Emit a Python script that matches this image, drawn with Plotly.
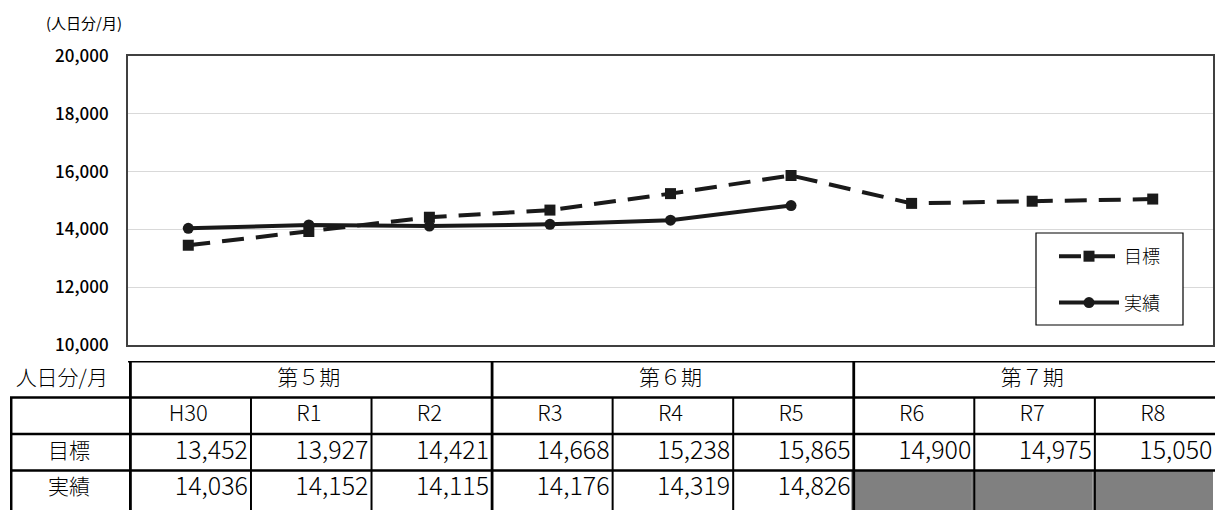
import plotly.graph_objects as go

# ---- data ----
years = ["H30", "R1", "R2", "R3", "R4", "R5", "R6", "R7", "R8"]
periods = ["第５期", "第６期", "第７期"]
target = [13452, 13927, 14421, 14668, 15238, 15865, 14900, 14975, 15050]
actual = [14036, 14152, 14115, 14176, 14319, 14826, None, None, None]
row_labels = ["目標", "実績"]
unit_label = "人日分/月"
axis_unit = "(人日分/月)"
y_ticks = [10000, 12000, 14000, 16000, 18000, 20000]

FONT = "Noto Sans CJK JP"
W, H = 1215, 510
ML, MR, MT, MB = 10, 0, 56, 0
PW, PH = W - ML - MR, H - MT - MB

def px_x(s):  # screen pixel -> paper x
    return (s - ML) / PW

def px_y(s):  # screen pixel -> paper y
    return (H - MB - s) / PH

xi = list(range(len(years)))
unit_px = (1213 - 128) / len(years)
tbl_left = -0.5 - (128 - 10) / unit_px
x2_right = 8.5 + (1215 - 1213) / unit_px

fig = go.Figure()

fig.add_trace(go.Scatter(
    x=xi, y=target, name="目標", mode="lines+markers",
    line=dict(color="#1a1a1a", width=4, dash="22px,12px"),
    marker=dict(symbol="square", size=11, color="#1a1a1a"),
    legendgroup="a", hoverinfo="skip"))
fig.add_trace(go.Scatter(
    x=xi, y=actual, name="実績", mode="lines+markers",
    line=dict(color="#1a1a1a", width=4),
    marker=dict(symbol="circle", size=11, color="#1a1a1a"),
    legendgroup="b", hoverinfo="skip"))

# ---- table texts (on x2/y2) ----
def fmt(v):
    return "" if v is None else f"{v:,}"

def txt(x, y, text, size, pos="middle center", weight=400):
    fig.add_trace(go.Scatter(x=x, y=y, text=text, mode="text", textposition=pos,
                             textfont=dict(family=FONT, size=size, color="#000", weight=weight),
                             xaxis="x2", yaxis="y2", showlegend=False, hoverinfo="skip"))

txt(xi, [1.5] * len(xi), years, 22, weight=300)
txt([1, 4, 7], [0.5] * 3, periods, 21, weight=300)
txt([i + 0.495 for i in xi], [2.5] * len(xi), [fmt(v) for v in target], 25, "middle left", 300)
txt([i + 0.495 for i in xi], [3.5] * len(xi), [fmt(v) for v in actual], 25, "middle left", 300)
lab_x = (tbl_left - 0.5) / 2
txt([lab_x, lab_x], [2.5, 3.5], row_labels, 21, weight=300)
txt([lab_x - 0.06], [0.5], [unit_label], 21, weight=300)

shapes = []
for i, v in enumerate(actual):
    if v is None:
        shapes.append(dict(type="rect", xref="x2", yref="y2", x0=i - 0.5, x1=i + 0.5,
                           y0=3, y1=4.1, fillcolor="#808080", line=dict(width=0), layer="below"))
LINE = "#000"
shapes.append(dict(type="line", xref="x2", yref="y2", x0=-0.5, x1=x2_right, y0=0.01, y1=0.01,
                   line=dict(color=LINE, width=2.5)))
for r in [1, 2, 3]:
    shapes.append(dict(type="line", xref="x2", yref="y2", x0=tbl_left, x1=x2_right, y0=r, y1=r,
                       line=dict(color=LINE, width=2.5)))
shapes.append(dict(type="line", xref="x2", yref="y2", x0=tbl_left + 0.01, x1=tbl_left + 0.01,
                   y0=1, y1=4.1, line=dict(color=LINE, width=2.5)))
for xb in [-0.5, 2.5, 5.5]:
    shapes.append(dict(type="line", xref="x2", yref="y2", x0=xb + 0.02, x1=xb + 0.02, y0=0, y1=4.1,
                       line=dict(color=LINE, width=2.8)))
for xb in [0.5, 1.5, 3.5, 4.5, 6.5, 7.5]:
    shapes.append(dict(type="line", xref="x2", yref="y2", x0=xb + 0.02, x1=xb + 0.02, y0=1, y1=4.1,
                       line=dict(color=LINE, width=2)))
# legend frame
shapes.append(dict(type="rect", xref="paper", yref="paper", x0=px_x(1036), x1=px_x(1183),
                   y0=px_y(325), y1=px_y(233), line=dict(color="#000", width=1.2),
                   fillcolor="white", layer="above"))

fig.update_layout(
    template="none",
    width=W, height=H, autosize=False,
    margin=dict(l=ML, r=MR, t=MT, b=MB, pad=0, autoexpand=False),
    paper_bgcolor="white", plot_bgcolor="white",
    font=dict(family=FONT, color="#000"),
    xaxis=dict(domain=[px_x(128), px_x(1213)], range=[-0.5, 8.5], showticklabels=False,
               ticks="", showgrid=False, zeroline=False, showline=True, mirror=True,
               linecolor="#404040", linewidth=2, anchor="y", fixedrange=True, automargin=False),
    yaxis=dict(domain=[px_y(345), 1], range=[10000, 20000], tickvals=y_ticks, ticks="",
               tickformat=",", showgrid=True, gridcolor="#d9d9d9", gridwidth=1,
               zeroline=False, showline=True, mirror=True, linecolor="#404040", linewidth=2,
               tickfont=dict(family=FONT, size=17, color="#000", weight=500),
               ticklabelstandoff=14, anchor="x", fixedrange=True, automargin=False),
    xaxis2=dict(domain=[0, 1], range=[tbl_left, x2_right], visible=False,
                anchor="y2", fixedrange=True, automargin=False),
    yaxis2=dict(domain=[0, px_y(361)], range=[(510 - 361) / 36.5, 0], visible=False,
                anchor="x2", fixedrange=True, automargin=False),
    legend=dict(x=px_x(1054), y=px_y(238), xanchor="left", yanchor="top",
                borderwidth=0, bgcolor="rgba(0,0,0,0)",
                font=dict(family=FONT, size=18, color="#000", weight=300),
                itemwidth=60, tracegroupgap=20, traceorder="grouped"),
    shapes=shapes,
    annotations=[dict(text=axis_unit, xref="paper", yref="paper", x=px_x(44), y=px_y(22),
                      xanchor="left", yanchor="middle", showarrow=False,
                      font=dict(family=FONT, size=15, color="#000"))],
)

fig.write_html("out.html", config={"displayModeBar": False},
               post_script="document.body.style.margin='0';document.body.style.overflow='hidden';")
